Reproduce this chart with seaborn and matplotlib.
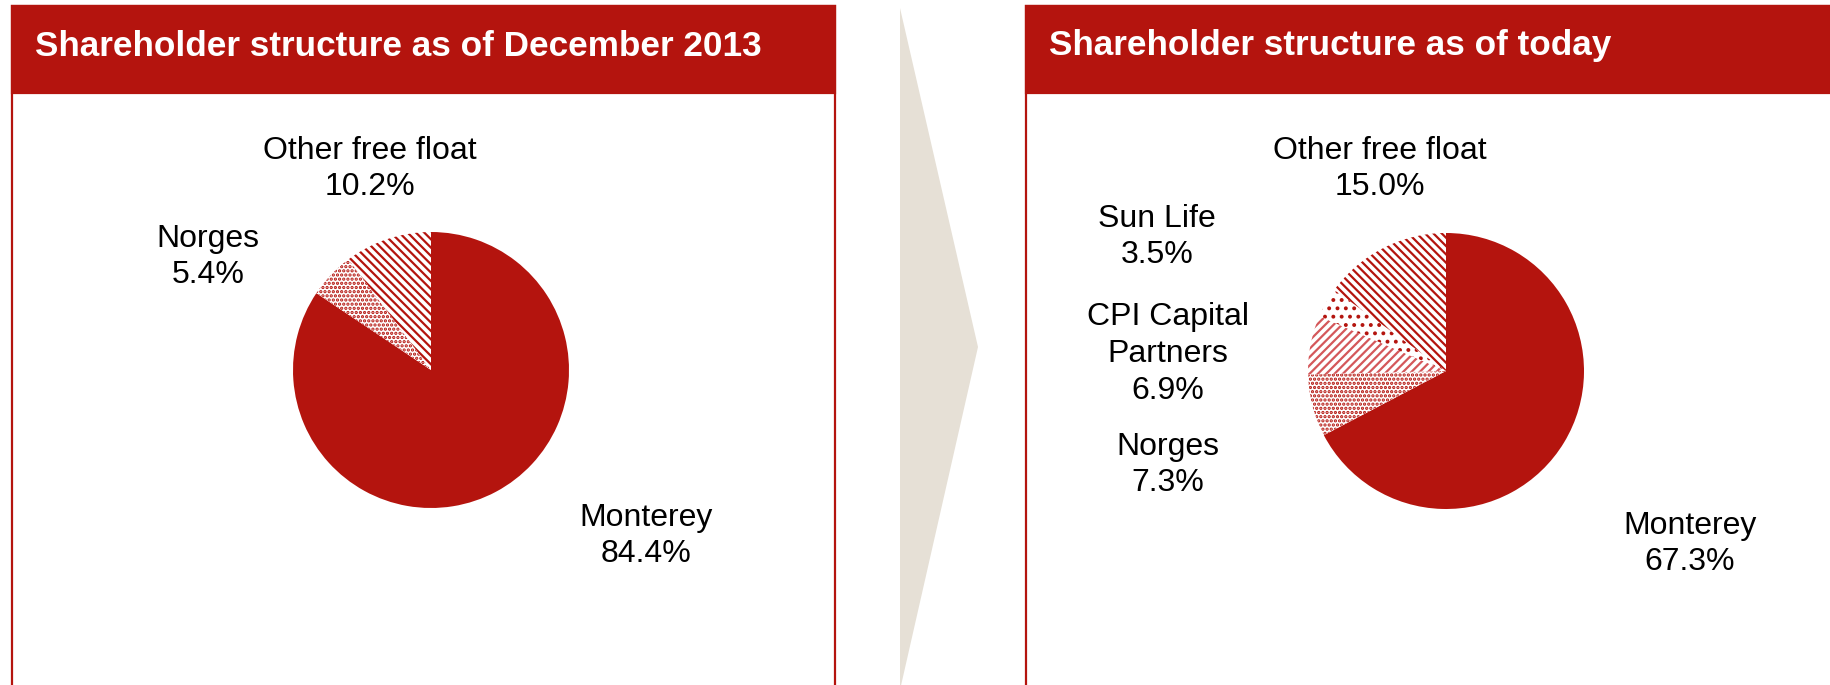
import matplotlib
matplotlib.use('Agg')
import matplotlib.pyplot as plt
import seaborn as sns
from matplotlib.patches import Rectangle, Polygon

sns.set_theme(style="white")
plt.rcParams['font.family'] = ['Liberation Sans', 'DejaVu Sans']
plt.rcParams['hatch.linewidth'] = 1.6

# ---- data ----
titles = ["Shareholder structure as of December 2013", "Shareholder structure as of today"]
labels_2013 = ["Monterey", "Norges", "Other free float"]
values_2013 = [84.4, 5.4, 10.2]
labels_today = ["Monterey", "Norges", "CPI Capital\nPartners", "Sun Life", "Other free float"]
values_today = [67.3, 7.3, 6.9, 3.5, 15.0]

RED = '#B4140E'
PINK = '#D4575A'
BEIGE = '#E6E0D6'

# styles per segment
styles_2013 = [(None, RED, RED), ('....', 'white', RED), ('\\\\\\\\', 'white', RED)]
styles_today = [(None, RED, RED), ('....', 'white', RED), ('////', 'white', PINK),
                ('..', 'white', RED), ('\\\\\\\\', 'white', RED)]

# label positions (pixel, visual centers)
pos_2013 = [(646, 536), (208, 257), (370, 169)]
pos_today = [(1690, 544), (1168, 465), (1168, 354), (1157, 237), (1380, 169)]

W, H = 1831, 685
fig = plt.figure(figsize=(W / 100, H / 100), dpi=100)


def fx(x):
    return x / W


def fy(y):
    return 1 - y / H


# panels
for x0, x1, title in [(12, 835, titles[0]), (1026, 1860, titles[1])]:
    fig.add_artist(Rectangle((fx(x0), fy(700)), (x1 - x0) / W, (700 - 6) / H,
                             transform=fig.transFigure, facecolor='white',
                             edgecolor=RED, linewidth=1.6, zorder=0))
    fig.add_artist(Rectangle((fx(x0), fy(93)), (x1 - x0) / W, (93 - 6) / H,
                             transform=fig.transFigure, facecolor=RED,
                             edgecolor=RED, linewidth=1.6, zorder=1))
    fig.text(fx(x0 + 23), fy(46), title, color='white', fontsize=25.3,
             fontweight='bold', ha='left', va='center', zorder=2)

# chevron arrow
fig.add_artist(Polygon([(fx(900), fy(8)), (fx(978), fy(347)), (fx(900), fy(690))],
                       closed=True, transform=fig.transFigure, facecolor=BEIGE,
                       edgecolor='none', zorder=0))

R = 138
HALF = 150


def draw_pie(cx, cy, values, styles):
    ax = fig.add_axes([fx(cx - HALF), fy(cy + HALF), 2 * HALF / W, 2 * HALF / H])
    wedges, _ = ax.pie(values, startangle=90, counterclock=False, radius=1,
                       wedgeprops=dict(linewidth=0))
    for w, (hatch, face, hc) in zip(wedges, styles):
        w.set_facecolor(face)
        w.set_edgecolor(hc)
        w.set_linewidth(0)
        if hatch:
            w.set_hatch(hatch)
    ax.set_xlim(-HALF / R, HALF / R)
    ax.set_ylim(-HALF / R, HALF / R)
    ax.set_aspect('equal')
    ax.axis('off')
    return ax


draw_pie(431, 370, values_2013, styles_2013)
draw_pie(1446, 371, values_today, styles_today)

for labels, values, pos in [(labels_2013, values_2013, pos_2013),
                            (labels_today, values_today, pos_today)]:
    for lab, val, (x, y) in zip(labels, values, pos):
        fig.text(fx(x), fy(y), f"{lab}\n{val:.1f}%", ha='center', va='center',
                 fontsize=23, linespacing=1.3, color='black')

fig.savefig('out.png', dpi=100)
